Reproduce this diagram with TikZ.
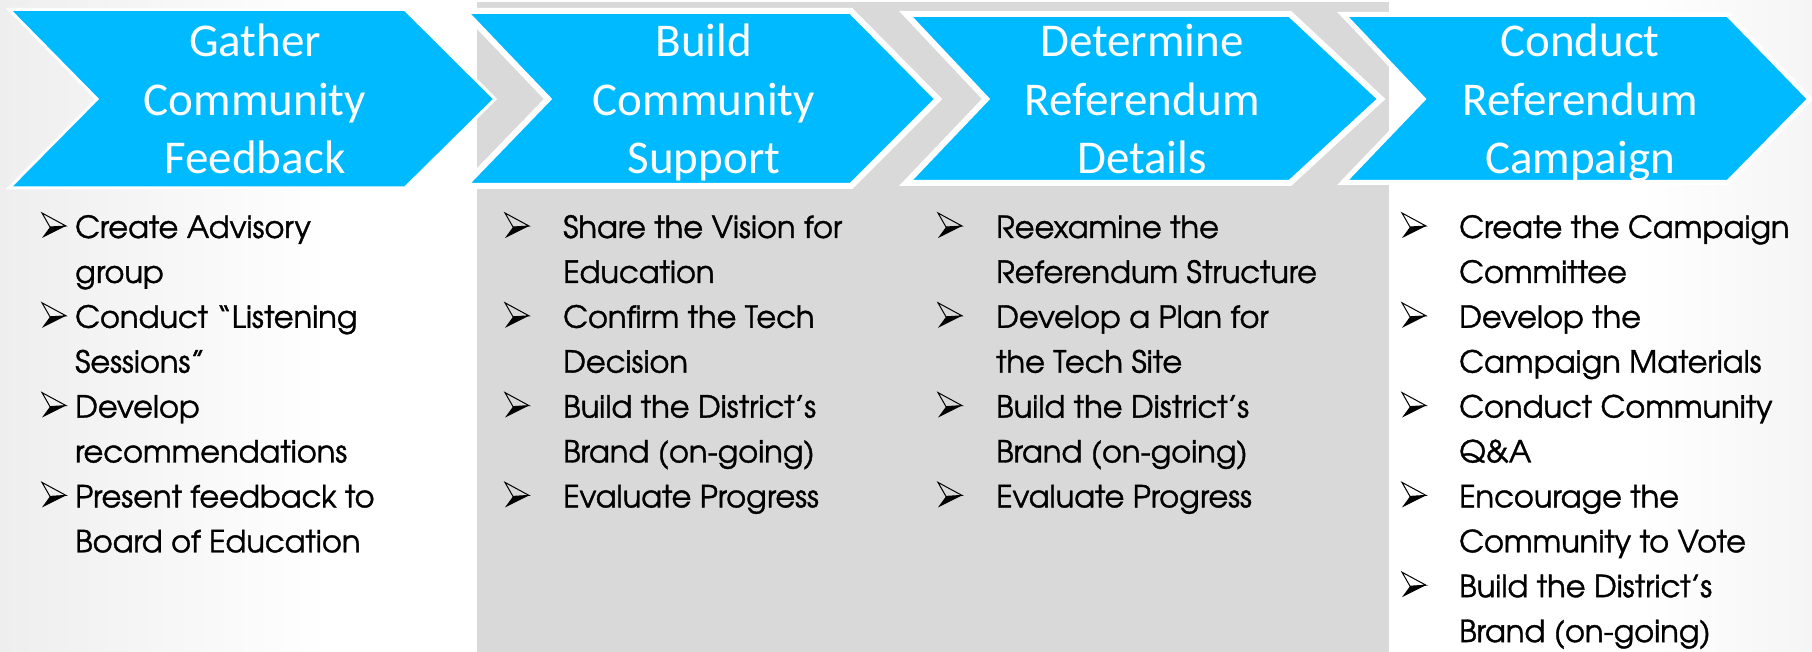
\documentclass[tikz,border=0pt]{standalone}
\usepackage{fontspec}
\newfontfamily\titlefont{Carlito}
\newfontfamily\bodyfont[FakeBold=1.2]{texgyreadventor-regular.otf}
\definecolor{chevblue}{RGB}{0,186,255}
\definecolor{colgray}{RGB}{217,217,217}
\definecolor{bgleft}{RGB}{238,238,238}
\definecolor{bgright}{RGB}{245,245,245}
\tikzset{
  chev/.style={fill=chevblue, draw=white, line join=miter, miter limit=10},
  title/.style={font=\titlefont\fontsize{47}{58.5}\selectfont, text=white, inner sep=0pt, anchor=base},
  body/.style={font=\bodyfont\fontsize{30.5}{44.9}\selectfont, text=black, inner sep=0pt, anchor=base west},
  bul/.pic={
    \fill[black] (0,0) -- (8,-11) -- (24,-12) -- cycle;
    \draw[black, line width=1pt, line join=miter] (0,-25) -- (24,-12) -- (8,-11) -- cycle;
  }
}
\begin{document}
\begin{tikzpicture}[x=1pt, y=-1pt]
\useasboundingbox (0,0) rectangle (1812,652);
% background
\fill[white] (0,0) rectangle (1812,652);
\shade[left color=bgleft, right color=white] (0,0) rectangle (330,652);
\shade[left color=white, right color=bgright] (1640,0) rectangle (1812,652);
% gray column
\fill[colgray] (477,2) rectangle (1389,652);
% chevrons
\path[chev, line width=3pt] (9,9.5) -- (405,9.5) -- (495,99) -- (405,188) -- (9,188) -- (97,99) -- cycle;
\path[chev, line width=6pt] (464,11) -- (851,11) -- (938,99) -- (851,186) -- (464,186) -- (548,99) -- cycle;
\path[chev, line width=6pt] (906,14) -- (1290,14) -- (1381,99) -- (1290,183) -- (906,183) -- (986,99) -- cycle;
\path[chev, line width=5pt] (1343,14.5) -- (1728,14.5) -- (1810,99) -- (1728,182.5) -- (1343,182.5) -- (1423,99) -- cycle;
% chevron titles
\node[title] (t1) at (255,57) {\begin{tabular}[t]{@{}c@{}}Gather\\Community\\Feedback\end{tabular}};
\node[title] (t2) at (704,57) {\begin{tabular}[t]{@{}c@{}}Build\\Community\\Support\end{tabular}};
\node[title] (t3) at (1142,57) {\begin{tabular}[t]{@{}c@{}}Determine\\Referendum\\Details\end{tabular}};
\node[title] (t4) at (1580,57) {\begin{tabular}[t]{@{}c@{}}Conduct\\Referendum\\Campaign\end{tabular}};
% column 1
\node[body] (c1) at (75,238) {\begin{tabular}[t]{@{}l@{}}Create Advisory\\group\\Conduct “Listening\\Sessions”\\Develop\\recommendations\\Present feedback to\\Board of Education\end{tabular}};
\foreach \k in {0,2,4,6} \pic at (42,238+44.9*\k) {bul};
% column 2
\node[body] (c2) at (563,238) {\begin{tabular}[t]{@{}l@{}}Share the Vision for\\Education\\Confirm the Tech\\Decision\\Build the District’s\\Brand (on-going)\\Evaluate Progress\end{tabular}};
\foreach \k in {0,2,4,6} \pic at (505,238+44.9*\k) {bul};
% column 3
\node[body] (c3) at (996,238) {\begin{tabular}[t]{@{}l@{}}Reexamine the\\Referendum Structure\\Develop a Plan for\\the Tech Site\\Build the District’s\\Brand (on-going)\\Evaluate Progress\end{tabular}};
\foreach \k in {0,2,4,6} \pic at (938,238+44.9*\k) {bul};
% column 4
\node[body] (c4) at (1459,238) {\begin{tabular}[t]{@{}l@{}}Create the Campaign\\Committee\\Develop the\\Campaign Materials\\Conduct Community\\Q\&A\\Encourage the\\Community to Vote\\Build the District’s\\Brand (on-going)\end{tabular}};
\foreach \k in {0,2,4,6,8} \pic at (1402,238+44.9*\k) {bul};
\end{tikzpicture}
\end{document}
